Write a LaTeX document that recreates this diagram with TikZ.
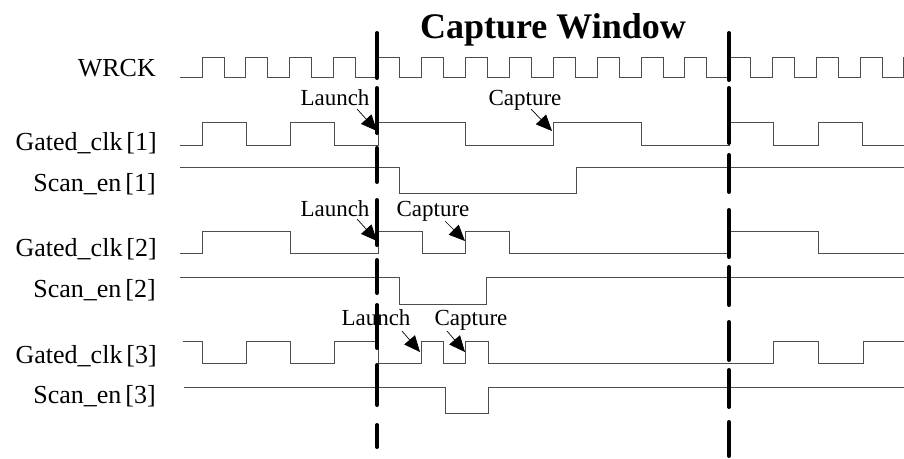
\documentclass[tikz,border=0pt]{standalone}
\usepackage{fontspec}
\setmainfont{Liberation Serif}
\usetikzlibrary{arrows.meta}
\begin{document}
\begin{tikzpicture}[x=1pt,y=-1pt,
  wave/.style={draw=black!70,line width=1pt},
  sig/.style={anchor=base east,inner sep=0pt,font=\fontsize{26}{28}\selectfont},
  evt/.style={anchor=base,inner sep=0pt,font=\fontsize{23}{25}\selectfont},
  ptr/.style={draw=black,line width=0.7pt,-{Triangle[length=16pt,width=14pt]}},
  bar/.style={line width=4pt,line cap=round}]
\useasboundingbox (0,0) rectangle (904,458);
% title
\node[anchor=base,inner sep=0pt,font=\fontsize{36}{38}\selectfont\bfseries] (title) at (553,38) {Capture Window};
% signal names
\node[sig] (nWRCK) at (156,76) {WRCK};
\node[sig] (nG1) at (157,150) {Gated\_clk\kern4pt[1]};
\node[sig] (nS1) at (156,191) {Scan\_en\kern4pt[1]};
\node[sig] (nG2) at (157,256) {Gated\_clk\kern4pt[2]};
\node[sig] (nS2) at (156,297) {Scan\_en\kern4pt[2]};
\node[sig] (nG3) at (157,363) {Gated\_clk\kern4pt[3]};
\node[sig] (nS3) at (156,403) {Scan\_en\kern4pt[3]};
% waveforms
\draw[wave] (180,77) \foreach \k in {0,...,15} { -- ({202+43.9*\k},77) -- ({202+43.9*\k},57) -- ({224+43.9*\k},57) -- ({224+43.9*\k},77) } -- (903,77) -- (903,57);
\draw[wave] (180,145) -- (202,145) -- (202,122) -- (246,122) -- (246,145) -- (290,145) -- (290,122) -- (334,122) -- (334,145) -- (378,145) -- (378,122) -- (465,122) -- (465,145) -- (553,145) -- (553,122) -- (641,122) -- (641,145) -- (729,145) -- (729,122) -- (773,122) -- (773,145) -- (818,145) -- (818,122) -- (862,122) -- (862,145) -- (904,145);
\draw[wave] (180,167) -- (399,167) -- (399,193) -- (576,193) -- (576,167) -- (904,167);
\draw[wave] (180,253) -- (202,253) -- (202,231) -- (290,231) -- (290,253) -- (378,253) -- (378,231) -- (422,231) -- (422,253) -- (465,253) -- (465,231) -- (509,231) -- (509,253) -- (729,253) -- (729,231) -- (818,231) -- (818,253) -- (904,253);
\draw[wave] (180,277) -- (399,277) -- (399,304) -- (486,304) -- (486,277) -- (904,277);
\draw[wave] (183,341) -- (202,341) -- (202,363) -- (246,363) -- (246,341) -- (290,341) -- (290,363) -- (334,363) -- (334,341) -- (378,341) -- (378,363) -- (421,363) -- (421,341) -- (443,341) -- (443,363) -- (465,363) -- (465,341) -- (488,341) -- (488,363) -- (773,363) -- (773,341) -- (818,341) -- (818,363) -- (863,363) -- (863,341) -- (904,341);
\draw[wave] (184,387) -- (445,387) -- (445,413) -- (488,413) -- (488,387) -- (904,387);
% event labels
\node[evt] (L1) at (335,105) {Launch};
\node[evt] (C1) at (525,105) {Capture};
\node[evt] (L2) at (335,216) {Launch};
\node[evt] (C2) at (433,216) {Capture};
\node[evt] (L3) at (376,325) {Launch};
\node[evt] (C3) at (471,325) {Capture};
\coordinate (tL1) at (377,131);
\coordinate (tC1) at (552,131);
\coordinate (tL2) at (377,241);
\coordinate (tC2) at (465,241);
\coordinate (tL3) at (420,352);
\coordinate (tC3) at (465,352);
\draw[ptr] (357,109) -- (tL1);
\draw[ptr] (531,109) -- (tC1);
\draw[ptr] (357,219) -- (tL2);
\draw[ptr] (445,221) -- (tC2);
\draw[ptr] (402,331) -- (tL3);
\draw[ptr] (447,331) -- (tC3);
% window boundaries
\foreach \a/\b in {33/78,88/133,148/182,200/245,260/293,305/348,365/405,425/447}
  \draw[bar] (377,\a) -- (377,\b);
\foreach \a/\b in {33/80,88/143,155/192,210/257,267/305,322/360,370/407,422/456}
  \draw[bar] (729,\a) -- (729,\b);
\end{tikzpicture}
\end{document}
